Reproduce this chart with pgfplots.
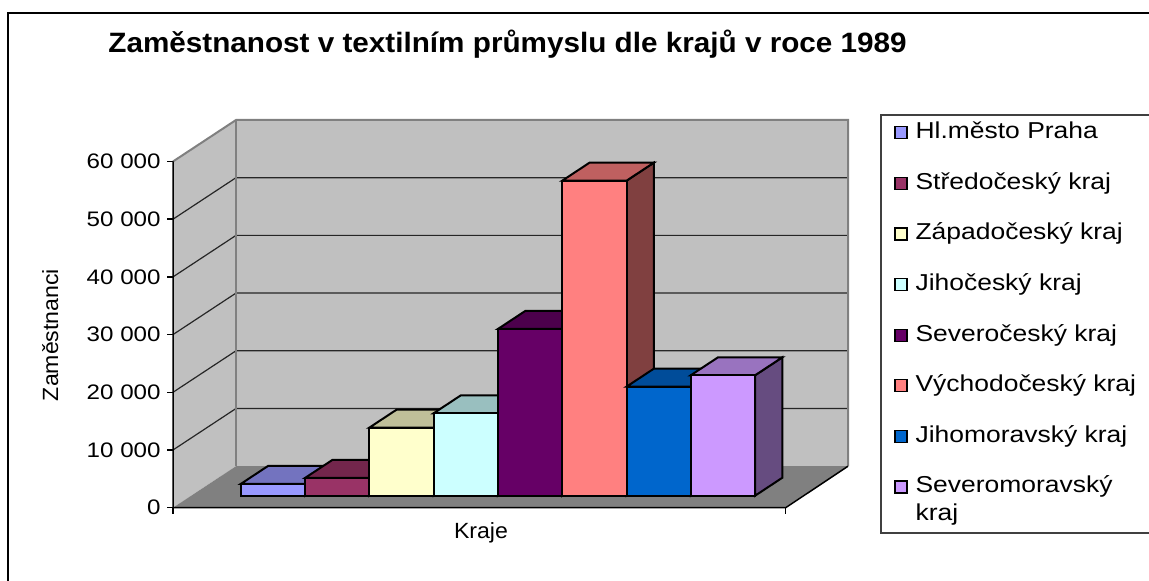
\documentclass[border=0pt]{standalone}
\usepackage{pgfplots}
\pgfplotsset{compat=1.18}
\usepackage{pgfplotstable}
\usepackage{fontspec}
\setmainfont{Liberation Sans}[FakeStretch=1.15]
\newfontfamily\titlefont{Liberation Sans}[FakeStretch=1.06]
\newfontfamily\labelfont{Liberation Sans}[FakeStretch=1.05]

\definecolor{c0}{HTML}{9999FF}
\definecolor{c1}{HTML}{993366}
\definecolor{c2}{HTML}{FFFFCC}
\definecolor{c3}{HTML}{CCFFFF}
\definecolor{c4}{HTML}{660066}
\definecolor{c5}{HTML}{FF8080}
\definecolor{c6}{HTML}{0066CC}
\definecolor{c7}{HTML}{CC99FF}
\definecolor{wallc}{HTML}{C0C0C0}
\definecolor{floorc}{HTML}{808080}

% employment in textile industry by region, 1989
\pgfplotstableread{
idx value
0 2030
1 3070
2 11790
3 14280
4 28890
5 54590
6 18890
7 20870
}\datatable

\pgfplotstableread{
a b
0 0
1 0
1 1
0 1
}\unitsq

\newcommand{\drawbar}[2]{%
  \pgfplotstablegetelem{#1}{value}\of\datatable
  \edef\barv{\pgfplotsretval}%
  \pgfmathsetmacro\barL{67.7+64.3*#1}%
  \addplot[forget plot, fill=c#1!50!black, draw=black, line width=1pt]
    table[x expr={\barL+64.3+27.3*\thisrow{a}}, y expr={2080+3120*\thisrow{a}+\barv*\thisrow{b}}] {\unitsq} -- cycle;
  \addplot[forget plot, fill=c#1!75!black, draw=black, line width=1pt]
    table[x expr={\barL+64.3*\thisrow{a}+27.3*\thisrow{b}}, y expr={2080+\barv+3120*\thisrow{b}}] {\unitsq} -- cycle;
  \addplot[fill=c#1, draw=black, line width=1pt]
    table[x expr={\barL+64.3*\thisrow{a}}, y expr={2080+\barv*\thisrow{b}}] {\unitsq} -- cycle;
  \addlegendentry{#2}%
}

\begin{document}
\begin{tikzpicture}
\path[use as bounding box] (0,0) rectangle (574.5pt,290.5pt);
\draw[line width=0.7pt] (580pt,284pt) -- (4pt,284pt) -- (4pt,-5pt);
\draw[black!75, line width=0.6pt] (580pt,233pt) -- (440.5pt,233pt) -- (440.5pt,24pt) -- (580pt,24pt);
\node[anchor=base west, inner sep=0pt, font=\titlefont\bfseries\fontsize{14}{16}\selectfont] at (54pt,264.15pt) {Zaměstnanost v textilním průmyslu dle krajů v roce 1989};
\node[rotate=90, anchor=base, inner sep=0pt, font=\labelfont\fontsize{11}{13}\selectfont] at (29pt,123pt) {Zaměstnanci};
\node[anchor=base, inner sep=0pt, font=\labelfont\fontsize{11}{13}\selectfont] at (240.5pt,21pt) {Kraje};
\begin{axis}[
  at={(86.5pt,36.65pt)}, anchor=south west,
  scale only axis, width=337.5pt, height=193.85pt,
  xmin=0, xmax=675, ymin=0, ymax=67192,
  clip=false,
  axis line style={draw=none},
  tick pos=left, tick align=outside, major tick length=3pt,
  every tick/.style={black, line width=0.75pt},
  xtick={0,612.7}, xticklabels={},
  ytick={0,10000,20000,30000,40000,50000,60000},
  yticklabels={0,10 000,20 000,30 000,40 000,50 000,60 000},
  scaled y ticks=false,
  /pgf/number format/assume math mode=true,
  yticklabel style={font=\fontsize{10.5}{12}\selectfont, inner sep=0pt, xshift=-3pt},
  legend image code/.code={\draw[#1, draw=black, line width=0.6pt] (0pt,-3pt) rectangle (6pt,3pt);},
  legend cell align=left,
  legend style={at={(axis description cs:1.0681,0.9966)}, anchor=north west,
    draw=none, fill=none, inner sep=0pt,
    font=\fontsize{11.5}{14}\selectfont,
    row sep=14.3pt, column sep=4pt,
    nodes={inner sep=0pt, text height=8.5pt, text depth=2.5pt, align=left}},
]
% walls
\addplot[forget plot, fill=wallc, draw=none] coordinates {(63,7192) (675,7192) (675,67192) (63,67192)} -- cycle;
\addplot[forget plot, fill=wallc, draw=none] coordinates {(0,0) (63,7192) (63,67192) (0,60000)} -- cycle;
\addplot[forget plot, fill=floorc, draw=none] coordinates {(0,0) (612.7,0) (675,7192) (63,7192)} -- cycle;
% grid lines
\addplot[forget plot, black!85, line width=0.6pt] coordinates {(0,10000) (63,17192) (675,17192)};
\addplot[forget plot, black!85, line width=0.6pt] coordinates {(0,20000) (63,27192) (675,27192)};
\addplot[forget plot, black!85, line width=0.6pt] coordinates {(0,30000) (63,37192) (675,37192)};
\addplot[forget plot, black!85, line width=0.6pt] coordinates {(0,40000) (63,47192) (675,47192)};
\addplot[forget plot, black!85, line width=0.6pt] coordinates {(0,50000) (63,57192) (675,57192)};
% wall edges
\addplot[forget plot, floorc, line width=1pt] coordinates {(0,60000) (63,67192) (675,67192) (675,7192)};
\addplot[forget plot, floorc, line width=1pt] coordinates {(63,67192) (63,7192)};
\addplot[forget plot, black, line width=0.75pt] coordinates {(0,60000) (0,0) (612.7,0) (675,7192)};
% bars
\drawbar{0}{Hl.město Praha}
\drawbar{1}{Středočeský kraj}
\drawbar{2}{Západočeský kraj}
\drawbar{3}{Jihočeský kraj}
\drawbar{4}{Severočeský kraj}
\drawbar{5}{Východočeský kraj}
\drawbar{6}{Jihomoravský kraj}
\drawbar{7}{\vtop{\baselineskip=14pt\hbox{Severomoravský}\hbox{kraj}}}
\end{axis}
\end{tikzpicture}
\end{document}
